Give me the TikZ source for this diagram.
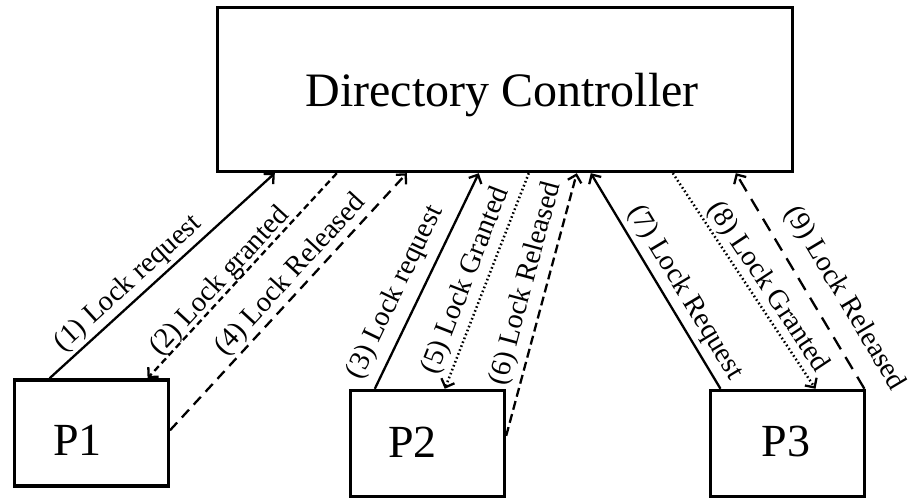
\documentclass[tikz,border=0pt]{standalone}
\usepackage{fontspec}
\setmainfont{Liberation Serif}
\usetikzlibrary{arrows.meta}

\begin{document}
\begin{tikzpicture}[x=1pt,y=1pt,
    box/.style={draw, line width=3.4pt, inner sep=0pt},
    pbox/.style={box, minimum width=154pt, minimum height=106pt},
    ptext/.style={font=\fontsize{46}{46}\selectfont, inner sep=0pt},
    msg/.style={line width=2.3pt},
    tip/.style={-{Straight Barb[length=7pt,width=14pt,line width=2.3pt]}},
    lbl/.style={font=\fontsize{28.5}{28.5}\selectfont, sloped, inner sep=3pt},
    solidmsg/.style={msg},
    shortdash/.style={msg, dash pattern=on 6.5pt off 4pt},
    middash/.style={msg, dash pattern=on 9pt off 4.5pt},
    longdash/.style={msg, dash pattern=on 10.5pt off 7pt},
    widedash/.style={msg, dash pattern=on 14pt off 9pt},
    dotmsg/.style={msg, line width=2.5pt, dash pattern=on 1.6pt off 2.6pt}
  ]
  \useasboundingbox (0,0) rectangle (914,500);

  % directory controller and the three processors
  \node[box, minimum width=575pt, minimum height=164pt] (dc) at (505,410.5) {};
  \node[font=\fontsize{48}{48}\selectfont, inner sep=0pt] (dctext) at (502,405) {Directory Controller};

  \node[pbox] (p1) at (91.3,67) {};
  \node[pbox] (p2) at (427.5,56.5) {};
  \node[pbox] (p3) at (787.2,56.5) {};
  \node[ptext] (p1text) at ([xshift=-14pt,yshift=-7pt]p1.center) {P1};
  \node[ptext] (p2text) at ([xshift=-15pt,yshift=1.5pt]p2.center) {P2};
  \node[ptext] (p3text) at ([xshift=-1pt,yshift=1.5pt]p3.center) {P3};

  % attachment points on the box borders
  \coordinate (a1) at ([xshift=37pt]p1.north west);
  \coordinate (b1) at ([xshift=59pt]dc.south west);
  \coordinate (b2) at ([xshift=121pt]dc.south west);
  \coordinate (a2) at ([xshift=135pt]p1.north west);
  \coordinate (a4) at ([yshift=-52pt]p1.north east);
  \coordinate (b4) at ([xshift=191pt]dc.south west);
  \coordinate (a3) at ([xshift=26pt]p2.north west);
  \coordinate (b3) at ([xshift=263pt]dc.south west);
  \coordinate (b5) at ([xshift=313pt]dc.south west);
  \coordinate (a5) at ([xshift=96pt]p2.north west);
  \coordinate (a6) at ([yshift=-47pt]p2.north east);
  \coordinate (b6) at ([xshift=361pt]dc.south west);
  \coordinate (a7) at ([xshift=12pt]p3.north west);
  \coordinate (b7) at ([xshift=375pt]dc.south west);
  \coordinate (b8) at ([xshift=457pt]dc.south west);
  \coordinate (a8) at ([xshift=107pt]p3.north west);
  \coordinate (a9) at ([xshift=-1.5pt]p3.north east);
  \coordinate (b9) at ([xshift=520pt]dc.south west);

  % message exchange
  \draw[solidmsg, tip] (a1) -- node[lbl, above=0pt, pos=0.40] {(1) Lock request} (b1);
  \draw[shortdash, tip] (b2) -- node[lbl, above=-5pt, pos=0.57] {(2) Lock granted} (a2);
  \draw[longdash, tip] (a4) -- node[lbl, above=-1pt, pos=0.56] {(4) Lock Released} (b4);
  \draw[solidmsg, tip] (a3) -- node[lbl, above=6pt, pos=0.40] {(3) Lock request} (b3);
  \draw[dotmsg, tip] (b5) -- node[lbl, above=2pt, pos=0.53] {(5) Lock Granted} (a5);
  \draw[middash, tip] (a6) -- node[lbl, above=3pt, pos=0.56] {(6) Lock Released} (b6);
  \draw[solidmsg, tip] (a7) -- node[lbl, above=2pt, pos=0.40] {(7) Lock Request} (b7);
  \draw[dotmsg, tip] (b8) -- node[lbl, above=-1pt, pos=0.57] {(8) Lock Granted} (a8);
  \draw[widedash, tip] (a9) -- node[lbl, above=12pt, pos=0.35] {(9) Lock Released} (b9);
\end{tikzpicture}
\end{document}
